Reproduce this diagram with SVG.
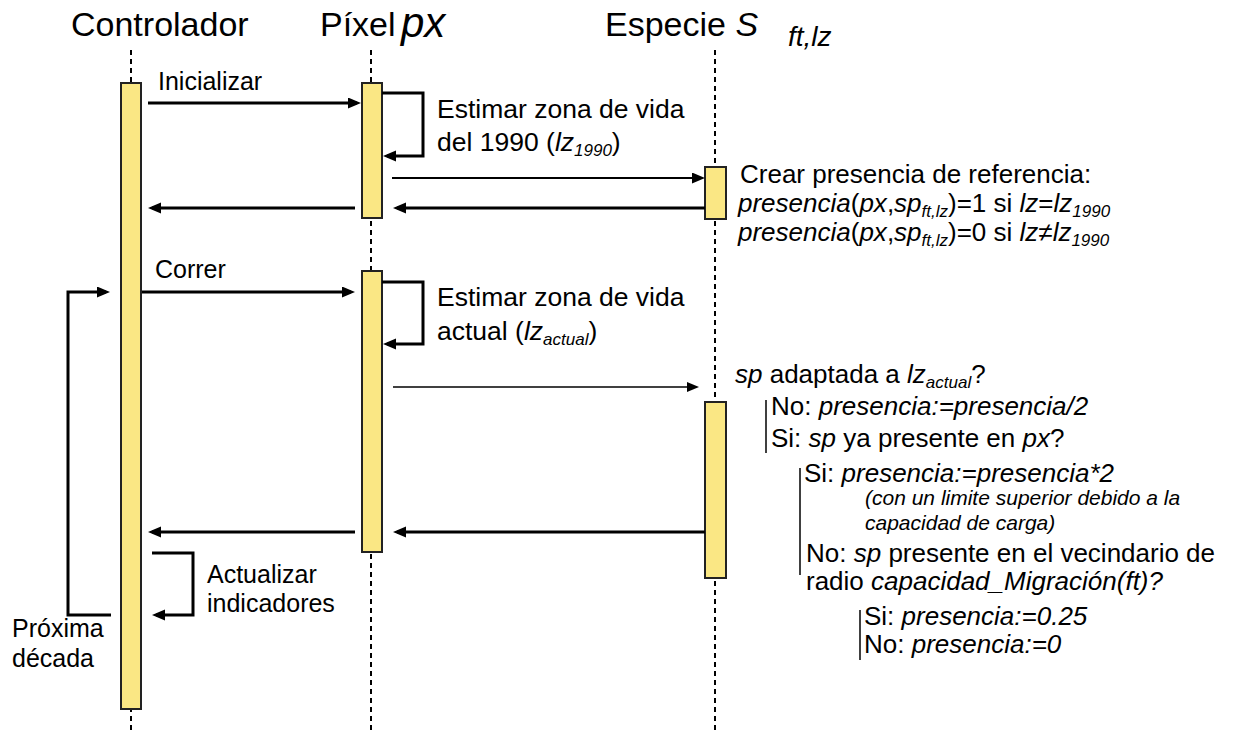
<svg xmlns="http://www.w3.org/2000/svg" width="1236" height="732" viewBox="0 0 1236 732">
<style>
text{font-family:"Liberation Sans",Arial,sans-serif;fill:#000}
.h{font-size:34px}
.l{font-size:25px}
.b{font-size:26px}
.e{font-size:26.5px}
.s{font-size:21px;font-style:italic}
.i{font-style:italic}
.life{stroke:#000;stroke-width:2;stroke-dasharray:5 4;fill:none}
.bar{fill:#FAE784;stroke:#222;stroke-width:2}
.m{stroke:#000;stroke-width:3;fill:none}
.t{stroke:#000;stroke-width:2;fill:none}
.th{stroke:#000;stroke-width:1.5;fill:none}
.v{stroke:#000;stroke-width:1.5}
</style>
<defs>
<marker id="ah" markerUnits="userSpaceOnUse" markerWidth="16" markerHeight="14" refX="9" refY="5.5" orient="auto"><path d="M0,0 L13,5.5 L0,11 z" fill="#000"/></marker>
<marker id="ahs" markerUnits="userSpaceOnUse" markerWidth="14" markerHeight="12" refX="8" refY="5" orient="auto"><path d="M0,0 L12,5 L0,10 z" fill="#000"/></marker>
</defs>
<g id="controlador">
<text class="h" x="71" y="36">Controlador</text>
<line class="life" x1="131" y1="50" x2="131" y2="732"/>
<rect class="bar" x="121" y="83" width="20" height="626"/>
</g>
<g id="pixel">
<text class="h" x="320" y="36">Píxel</text>
<text class="i" font-size="42" x="401" y="37">px</text>
<line class="life" x1="371" y1="50" x2="371" y2="732"/>
<rect class="bar" x="362" y="83" width="20" height="135"/>
<rect class="bar" x="362" y="271" width="20" height="281"/>
</g>
<g id="especie">
<text class="h" x="605" y="36">Especie <tspan class="i">S</tspan></text>
<text class="i" font-size="28" x="788" y="46">ft,lz</text>
<line class="life" x1="715" y1="50" x2="715" y2="732"/>
<rect class="bar" x="705" y="167" width="21" height="52"/>
<rect class="bar" x="705" y="402" width="21" height="176"/>
</g>
<g id="connectors">
<path class="m" d="M148,103 H357" marker-end="url(#ah)"/>
<path class="m" d="M382,93 H423 V156 H387" marker-end="url(#ah)"/>
<path class="t" d="M392,178 H701" marker-end="url(#ah)"/>
<path class="m" d="M705,208 H397" marker-end="url(#ah)"/>
<path class="m" d="M355,208 H152" marker-end="url(#ah)"/>
<path class="m" d="M142,292 H351" marker-end="url(#ah)"/>
<path class="m" d="M111,615 H68 V292 H106" marker-end="url(#ah)"/>
<path class="m" d="M382,282 H423 V344 H387" marker-end="url(#ah)"/>
<path class="th" d="M393,387 H695" marker-end="url(#ahs)"/>
<path class="m" d="M705,532 H397" marker-end="url(#ah)"/>
<path class="m" d="M355,532 H152" marker-end="url(#ah)"/>
<path class="m" d="M152,553 H193 V615 H156" marker-end="url(#ah)"/>
</g>
<g id="labels">
<text class="l" x="158" y="90">Inicializar</text>
<text class="e" x="437" y="118">Estimar zona de vida</text>
<text class="e" x="437" y="151">del 1990 (<tspan class="i">lz</tspan><tspan class="i" font-size="17" dy="5">1990</tspan><tspan dy="-5">)</tspan></text>
<text class="l" x="155" y="278">Correr</text>
<text class="e" x="437" y="306">Estimar zona de vida</text>
<text class="e" x="437" y="340">actual (<tspan class="i">lz</tspan><tspan class="i" font-size="17" dy="5">actual</tspan><tspan dy="-5">)</tspan></text>
<text class="l" x="207" y="583">Actualizar</text>
<text class="l" x="207" y="612">indicadores</text>
<text class="l" x="12" y="637">Próxima</text>
<text class="l" x="12" y="667">década</text>
</g>
<g id="notes">
<text class="b" x="740" y="183">Crear presencia de referencia:</text>
<text class="b" x="738" y="212"><tspan class="i">presencia</tspan>(<tspan class="i">px</tspan>,<tspan class="i">sp</tspan><tspan class="i" font-size="17" dy="5">ft,lz</tspan><tspan dy="-5">)=1 si </tspan><tspan class="i">lz</tspan>=<tspan class="i">lz</tspan><tspan class="i" font-size="17" dy="5">1990</tspan></text>
<text class="b" x="738" y="241"><tspan class="i">presencia</tspan>(<tspan class="i">px</tspan>,<tspan class="i">sp</tspan><tspan class="i" font-size="17" dy="5">ft,lz</tspan><tspan dy="-5">)=0 si </tspan><tspan class="i">lz</tspan>≠<tspan class="i">lz</tspan><tspan class="i" font-size="17" dy="5">1990</tspan></text>
<text class="b" x="735" y="383"><tspan class="i">sp</tspan> adaptada a <tspan class="i">lz</tspan><tspan class="i" font-size="17" dy="5">actual</tspan><tspan dy="-5">?</tspan></text>
<line class="v" x1="766" y1="400" x2="766" y2="453"/>
<text class="b" x="771" y="415">No: <tspan class="i">presencia:=presencia/2</tspan></text>
<text class="b" x="771" y="447">Si: <tspan class="i">sp</tspan> ya presente en <tspan class="i">px</tspan>?</text>
<line class="v" x1="800" y1="468" x2="800" y2="575"/>
<text class="b" x="804" y="482">Si: <tspan class="i">presencia:=presencia*2</tspan></text>
<text class="s" x="865" y="505">(con un limite superior debido a la</text>
<text class="s" x="865" y="530">capacidad de carga)</text>
<text class="b" x="806" y="562">No: <tspan class="i">sp</tspan> presente en el vecindario de</text>
<text class="b" x="806" y="590">radio <tspan class="i">capacidad_Migración(ft)?</tspan></text>
<line class="v" x1="860" y1="610" x2="860" y2="660"/>
<text class="b" x="864" y="625">Si: <tspan class="i">presencia:=0.25</tspan></text>
<text class="b" x="864" y="653">No: <tspan class="i">presencia:=0</tspan></text>
</g>
</svg>
